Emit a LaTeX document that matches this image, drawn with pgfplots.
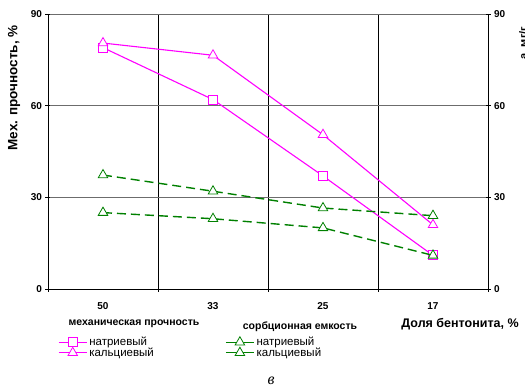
\documentclass[border=0pt]{standalone}
\usepackage{pgfplots}
\pgfplotsset{compat=1.18}
\usepackage{fontspec}
\setmainfont{Liberation Sans}
\newfontfamily\serifit{Liberation Serif}
\definecolor{mag}{RGB}{255,0,255}
\definecolor{grn}{RGB}{0,128,0}
\begin{document}
\begin{tikzpicture}
\useasboundingbox (-48pt,-100pt) rectangle (477pt,289pt);
\pgfplotsset{
  base/.style={
    at={(0pt,0pt)}, anchor=south west,
    scale only axis, width=440pt, height=275pt,
    xmin=-0.5, xmax=3.5, ymin=0, ymax=90,
    ytick={0,30,60,90},
    tick align=center,
    major tick length=5pt,
    tick style={black, line width=0.6pt},
    /pgf/number format/assume math mode=true,
    ticklabel style={font=\fontsize{10}{11}\selectfont\bfseries},
    legend cell align=left,
    legend style={draw=none, fill=none, font=\fontsize{11.5}{12}\selectfont, row sep=-3.5pt, inner sep=0pt},
    legend image code/.code={\draw[solid, mark repeat=2,mark phase=2] plot coordinates {(0pt,0pt)(14pt,0pt)(28pt,0pt)};},
  }
}
\begin{axis}[base,
  axis line style={black, line width=0.8pt},
  axis y line*=left,
  axis x line*=bottom,
  xtick={-0.5,0.5,1.5,2.5,3.5},
  xticklabels={},
  extra x ticks={0,1,2,3},
  extra x tick labels={50,33,25,17},
  extra x tick style={major tick length=0pt, grid=none, ticklabel style={yshift=-10pt}},
  xmajorgrids, ymajorgrids,
  x grid style={black, line width=0.8pt},
  y grid style={gray!85!black, line width=0.7pt},
  legend style={at={(10pt,-46pt)}, anchor=north west},
]
\addplot[mag, line width=1.1pt, mark=square*, mark size=4.5pt, mark options={fill=white, line width=0.8pt, solid}]
  coordinates {(0,79) (1,62) (2,37) (3,11)};
\addlegendentry{натриевый}
\addplot[mag, line width=1.1pt, mark=triangle*, mark size=5.5pt, mark options={fill=white, line width=0.8pt, solid}]
  coordinates {(0,80.5) (1,76.5) (2,50.5) (3,21)};
\addlegendentry{кальциевый}
\end{axis}
\begin{axis}[base,
  axis line style={black, line width=0.8pt},
  axis y line*=right,
  axis x line=none,
  xtick=\empty,
  legend style={at={(177pt,-46pt)}, anchor=north west},
]
\addplot[grn, line width=1.4pt, dash pattern=on 9pt off 5pt, mark=triangle*, mark size=5.5pt, mark options={fill=white, line width=0.8pt, solid}]
  coordinates {(0,25) (1,23) (2,20) (3,11)};
\addlegendentry{натриевый}
\addplot[grn, line width=1.4pt, dash pattern=on 9pt off 5pt, mark=triangle*, mark size=5.5pt, mark options={fill=white, line width=0.8pt, solid}]
  coordinates {(0,37.3) (1,32) (2,26.5) (3,24)};
\addlegendentry{кальциевый}
\end{axis}
\node[rotate=90, font=\fontsize{13.5}{15}\selectfont\bfseries] at (-34pt,201pt) {Мех. прочность, \%};
\node[rotate=90, font=\fontsize{11}{13}\selectfont\bfseries] at (476pt,246pt) {а, мг/г};
\node[font=\fontsize{10.5}{12}\selectfont\bfseries] at (86pt,-35pt) {механическая прочность};
\node[font=\fontsize{10.5}{12}\selectfont\bfseries] at (252pt,-38pt) {сорбционная емкость};
\node[font=\fontsize{12.5}{14}\selectfont\bfseries] at (412pt,-35pt) {Доля бентонита, \%};
\node[font=\fontsize{16}{18}\selectfont\serifit\itshape] at (223pt,-92pt) {в};
\end{tikzpicture}
\end{document}
